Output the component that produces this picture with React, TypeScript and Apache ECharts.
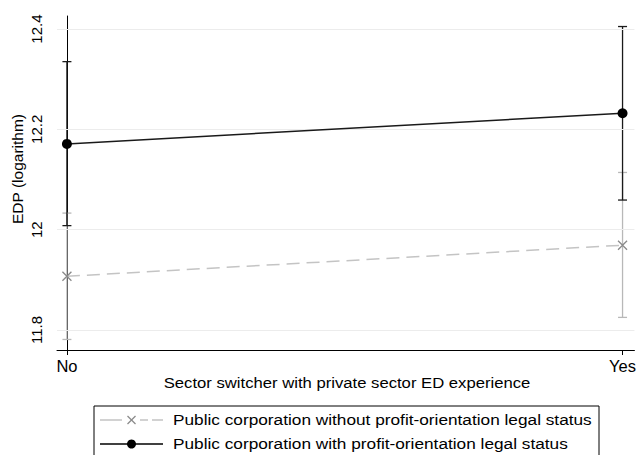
import React, { useEffect, useRef } from "react";
import * as echarts from "echarts";

const categories = ["No", "Yes"];
const xPositions = [0, 1];
const yTicks = [11.8, 12, 12.2, 12.4];

const seriesNames = [
  "Public corporation without profit-orientation legal status",
  "Public corporation with profit-orientation legal status",
];

const withoutMean = [11.907, 11.969];
const withoutLow = [11.781, 11.825];
const withoutHigh = [12.033, 12.114];

const withMean = [12.171, 12.232];
const withLow = [12.008, 12.059];
const withHigh = [12.335, 12.405];

const FONT = "Liberation Sans, Arial, sans-serif";
const GRAY_LINE = "#c4c4c4";
const GRAY_MARK = "#8a8a8a";
const GRAY_BAR = "#b8b8b8";
const BLACK = "#1a1a1a";

function errorBarSeries(low: number[], high: number[], color: string, z: number) {
  return {
    type: "custom",
    z,
    silent: true,
    data: xPositions.map((x, i) => [x, low[i], high[i]]),
    renderItem: (params: any, api: any) => {
      const x = api.value(0);
      const lo = api.coord([x, api.value(1)]);
      const hi = api.coord([x, api.value(2)]);
      const hw = 4.5;
      const style = { stroke: color, lineWidth: 1.3, fill: "none" };
      return {
        type: "group",
        children: [
          { type: "line", shape: { x1: lo[0], y1: lo[1], x2: hi[0], y2: hi[1] }, style },
          { type: "line", shape: { x1: lo[0] - hw, y1: lo[1], x2: lo[0] + hw, y2: lo[1] }, style },
          { type: "line", shape: { x1: hi[0] - hw, y1: hi[1], x2: hi[0] + hw, y2: hi[1] }, style },
        ],
      };
    },
  };
}

export default function App() {
  const ref = useRef<HTMLDivElement>(null);
  useEffect(() => {
    if (!ref.current) return;
    const chart = echarts.init(ref.current, undefined, { renderer: "svg" });
    const legendRow1 = 420;
    const legendRow2 = 444;
    chart.setOption({
      animation: false,
      backgroundColor: "#ffffff",
      textStyle: { fontFamily: FONT },
      grid: { left: 57, top: 16, right: 0, bottom: 105 },
      xAxis: {
        type: "value",
        min: -0.01786,
        max: 1.0214,
        splitLine: { show: false },
        axisLine: { show: true, onZero: false, lineStyle: { color: "#000", width: 1 } },
        axisTick: { show: true, customValues: xPositions, length: 5, lineStyle: { color: "#000" } },
        axisLabel: {
          customValues: xPositions,
          formatter: (v: number) => categories[Math.round(v)],
          color: "#000",
          fontSize: 16.5,
          margin: 7,
          fontFamily: FONT,
        },
      },
      yAxis: {
        type: "value",
        min: 11.76,
        max: 12.426,
        splitLine: { show: false },
        axisLine: { show: true, lineStyle: { color: "#000", width: 1 } },
        axisTick: { show: true, customValues: yTicks, length: 5, lineStyle: { color: "#000" } },
        axisLabel: {
          customValues: yTicks,
          formatter: (v: number) => String(Math.round(v * 10) / 10),
          rotate: 90,
          color: "#000",
          fontSize: 15,
          margin: 13,
          fontFamily: FONT,
        },
      },
      graphic: [
        {
          type: "text",
          x: 347,
          y: 383,
          scaleX: 1.15,
          style: {
            text: "Sector switcher with private sector ED experience",
            fill: "#000",
            font: `14.5px ${FONT}`,
            align: "center",
            verticalAlign: "middle",
          },
        },
        {
          type: "text",
          x: 17,
          y: 169,
          rotation: Math.PI / 2,
          style: {
            text: "EDP (logarithm)",
            fill: "#000",
            font: `15.5px ${FONT}`,
            align: "center",
            verticalAlign: "middle",
          },
        },
        {
          type: "rect",
          shape: { x: 94, y: 406, width: 505, height: 80 },
          style: { fill: "#fff", stroke: "#000", lineWidth: 1 },
        },
        {
          type: "line",
          shape: { x1: 100, y1: legendRow1, x2: 163, y2: legendRow1 },
          style: { stroke: GRAY_LINE, lineWidth: 1.5, lineDash: [22, 18, 8, 4] },
        },
        {
          type: "line",
          shape: { x1: 127.5, y1: legendRow1 - 4, x2: 135.5, y2: legendRow1 + 4 },
          style: { stroke: GRAY_MARK, lineWidth: 1.3 },
        },
        {
          type: "line",
          shape: { x1: 127.5, y1: legendRow1 + 4, x2: 135.5, y2: legendRow1 - 4 },
          style: { stroke: GRAY_MARK, lineWidth: 1.3 },
        },
        {
          type: "line",
          shape: { x1: 100, y1: legendRow2, x2: 163, y2: legendRow2 },
          style: { stroke: "#000", lineWidth: 1.5 },
        },
        {
          type: "circle",
          shape: { cx: 131.5, cy: legendRow2, r: 4.5 },
          style: { fill: "#000" },
        },
        {
          type: "text",
          x: 173,
          y: legendRow1,
          scaleX: 1.19,
          style: {
            text: seriesNames[0],
            fill: "#000",
            font: `14.5px ${FONT}`,
            align: "left",
            verticalAlign: "middle",
          },
        },
        {
          type: "text",
          x: 173,
          y: legendRow2,
          scaleX: 1.19,
          style: {
            text: seriesNames[1],
            fill: "#000",
            font: `14.5px ${FONT}`,
            align: "left",
            verticalAlign: "middle",
          },
        },
      ],
      series: [
        {
          type: "line",
          name: "grid",
          data: [],
          silent: true,
          z: 0,
          markLine: {
            silent: true,
            symbol: "none",
            label: { show: false },
            lineStyle: { color: "#ececec", type: "solid", width: 1 },
            data: yTicks.map((v) => ({ yAxis: v })),
          },
        },
        errorBarSeries(withoutLow, withoutHigh, GRAY_BAR, 2),
        {
          type: "line",
          name: seriesNames[0],
          z: 3,
          data: xPositions.map((x, i) => [x, withoutMean[i]]),
          lineStyle: { color: GRAY_LINE, width: 1.5, type: [13, 7] },
          symbol: "path://M0,0L10,10M0,10L10,0",
          symbolSize: 9,
          itemStyle: { color: "transparent", borderColor: GRAY_MARK, borderWidth: 1.3 },
        },
        errorBarSeries(withLow, withHigh, BLACK, 4),
        {
          type: "line",
          name: seriesNames[1],
          z: 5,
          data: xPositions.map((x, i) => [x, withMean[i]]),
          lineStyle: { color: BLACK, width: 1.5 },
          symbol: "circle",
          symbolSize: 10,
          itemStyle: { color: "#000" },
        },
      ],
    });
    return () => chart.dispose();
  }, []);
  return <div ref={ref} style={{ width: 639, height: 455, position: "absolute", left: 0, top: 0 }} />;
}
